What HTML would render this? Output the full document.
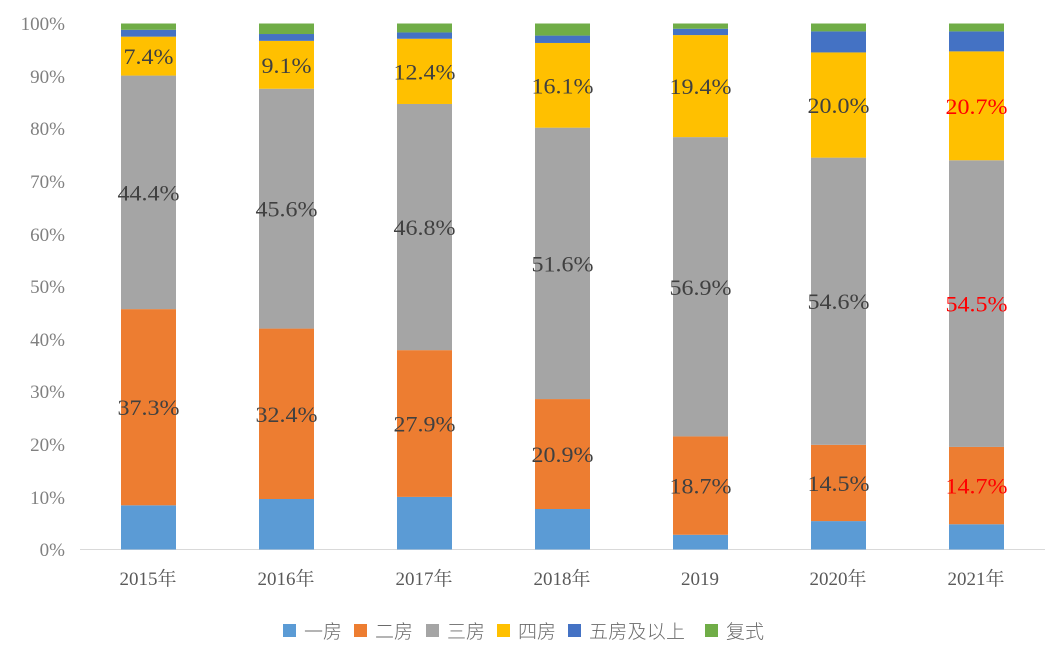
<!DOCTYPE html>
<html><head><meta charset="utf-8"><style>
html,body{margin:0;padding:0;background:#fff;}
svg{display:block;}
</style></head><body>
<svg width="1060" height="658" xmlns="http://www.w3.org/2000/svg">
<g font-family="Liberation Serif, Noto Serif CJK SC, serif" font-size="19" fill="#808080" text-anchor="end">
<text x="65" y="30">100%</text>
<text x="65" y="83">90%</text>
<text x="65" y="135">80%</text>
<text x="65" y="188">70%</text>
<text x="65" y="241">60%</text>
<text x="65" y="293">50%</text>
<text x="65" y="346">40%</text>
<text x="65" y="398">30%</text>
<text x="65" y="451">20%</text>
<text x="65" y="504">10%</text>
<text x="65" y="556">0%</text>
</g>
<line x1="80" y1="549.5" x2="1045" y2="549.5" stroke="#d9d9d9" stroke-width="1"/>
<g id="bars"></g>
<g id="labels" font-family="Liberation Serif, serif" font-size="22" text-anchor="middle"></g>
<g font-family="Liberation Serif, Noto Serif CJK SC, serif" font-size="19" fill="#595959" text-anchor="middle">
<text x="148" y="585">2015年</text>
<text x="286" y="585">2016年</text>
<text x="424" y="585">2017年</text>
<text x="562" y="585">2018年</text>
<text x="700" y="585">2019</text>
<text x="838" y="585">2020年</text>
<text x="976" y="585">2021年</text>
</g>
<g font-family="Noto Sans CJK SC, sans-serif" font-size="19" fill="#6a6a6a" font-weight="300">
<rect x="283" y="624" width="13" height="13" fill="#5b9bd5"/><text x="304" y="638">一房</text>
<rect x="354" y="624" width="13" height="13" fill="#ed7d31"/><text x="375" y="638">二房</text>
<rect x="426" y="624" width="13" height="13" fill="#a5a5a5"/><text x="447" y="638">三房</text>
<rect x="497" y="624" width="13" height="13" fill="#ffc000"/><text x="518" y="638">四房</text>
<rect x="568" y="624" width="13" height="13" fill="#4472c4"/><text x="589" y="638" textLength="96">五房及以上</text>
<rect x="705" y="624" width="13" height="13" fill="#70ad47"/><text x="726" y="638">复式</text>
</g>
<script>
var cols=["#5b9bd5","#ed7d31","#a5a5a5","#ffc000","#4472c4","#70ad47"];
var tops=[[8.4,45.7,90.1,97.5,98.8,100],[9.6,42.0,87.6,96.7,98.0,100],[10.0,37.9,84.7,97.1,98.3,100],[7.7,28.6,80.2,96.3,97.7,100],[2.8,21.5,78.4,97.8,99.0,100],[5.4,19.9,74.5,94.5,98.5,100],[4.8,19.5,74.0,94.7,98.5,100]];
var labs=[["37.3%","44.4%","7.4%"],["32.4%","45.6%","9.1%"],["27.9%","46.8%","12.4%"],["20.9%","51.6%","16.1%"],["18.7%","56.9%","19.4%"],["14.5%","54.6%","20.0%"],["14.7%","54.5%","20.7%"]];
function y(p){return 549.5-p*5.26;}
var ns="http://www.w3.org/2000/svg",b=document.getElementById("bars"),l=document.getElementById("labels");
for(var i=0;i<7;i++){var x=121+138*i,prev=0;
for(var j=0;j<6;j++){var r=document.createElementNS(ns,"rect");r.setAttribute("x",x);r.setAttribute("width",55);r.setAttribute("y",y(tops[i][j]));r.setAttribute("height",y(prev)-y(tops[i][j]));r.setAttribute("fill",cols[j]);b.appendChild(r);
if(j>=1&&j<=3){var t=document.createElementNS(ns,"text");t.setAttribute("x",x+27.5);t.setAttribute("y",(y(prev)+y(tops[i][j]))/2+8);t.setAttribute("fill",i==6?"#ff0000":"#404040");var s=labs[i][j-1];t.setAttribute("textLength",s.length==5?62:50);t.setAttribute("lengthAdjust","spacingAndGlyphs");t.textContent=s;l.appendChild(t);}
prev=tops[i][j];}}
</script>
</svg>
</body></html>
